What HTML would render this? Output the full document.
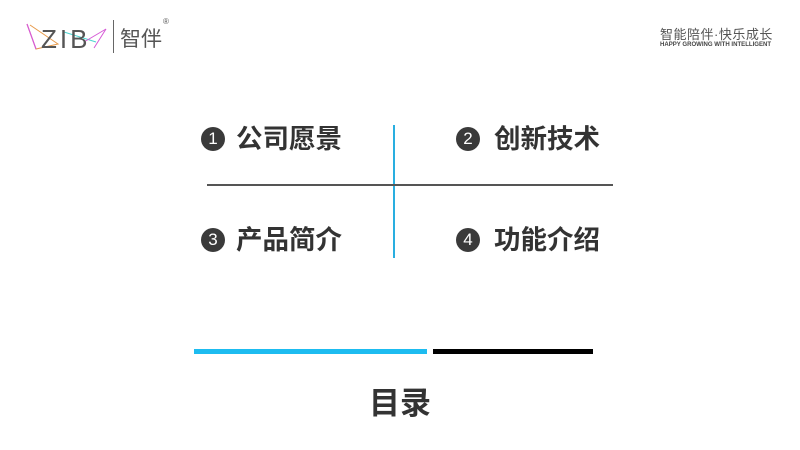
<!DOCTYPE html>
<html><head><meta charset="utf-8"><style>
body{margin:0;width:800px;height:450px;background:#fff;position:relative;overflow:hidden;font-family:"Liberation Sans","Noto Sans CJK SC",sans-serif}
.a{position:absolute}
.c{position:absolute;width:24px;height:24px;border-radius:50%;background:#3a3a3a;color:#fff;font-size:17px;line-height:24px;text-align:center}
.t{position:absolute;font-size:26.5px;font-weight:bold;color:#333;line-height:30px}
</style></head><body>
<svg class="a" style="left:24px;top:20px" width="90" height="32">
<polyline points="3,4 12,29 34,24 6,5" fill="none" stroke="#e79a4a" stroke-width="1"/>
<line x1="3" y1="4" x2="12" y2="29" stroke="#d65ad6" stroke-width="1.2"/>
<line x1="40" y1="12" x2="72" y2="22" stroke="#4dd4d0" stroke-width="1"/>
<polyline points="60,22 82,9 70,28" fill="none" stroke="#d65ad6" stroke-width="1"/>
<text x="17" y="28" font-family="Liberation Sans" font-size="26" fill="#555" letter-spacing="3">ZIB</text>
</svg>
<div class="a" style="left:113px;top:20px;width:1px;height:33px;background:#666"></div>
<div class="a" style="left:120px;top:23px;font-size:21px;color:#555">智伴</div>
<div class="a" style="left:163px;top:17px;font-size:8px;color:#555">®</div>
<div class="a" style="left:660px;top:24px;font-size:13px;color:#555;letter-spacing:0.5px">智能陪伴·快乐成长</div>
<div class="a" style="left:660px;top:41px;font-size:6.5px;color:#444;font-weight:bold;transform:scaleX(0.93);transform-origin:left">HAPPY GROWING WITH INTELLIGENT</div>

<div class="a" style="left:393px;top:125px;width:2px;height:133px;background:#29aee0"></div>
<div class="a" style="left:207px;top:184px;width:406px;height:2px;background:#555"></div>

<div class="c" style="left:201px;top:127px">1</div><div class="t" style="left:236px;top:124px">公司愿景</div>
<div class="c" style="left:456px;top:127px">2</div><div class="t" style="left:494px;top:124px">创新技术</div>
<div class="c" style="left:201px;top:228px">3</div><div class="t" style="left:236px;top:225px">产品简介</div>
<div class="c" style="left:456px;top:228px">4</div><div class="t" style="left:494px;top:225px">功能介绍</div>

<div class="a" style="left:194px;top:349px;width:233px;height:5px;background:#1dbcf0"></div>
<div class="a" style="left:433px;top:349px;width:160px;height:5px;background:#000"></div>
<div class="a" style="left:369px;top:378px;font-size:31px;font-weight:bold;color:#333">目录</div>
</body></html>
